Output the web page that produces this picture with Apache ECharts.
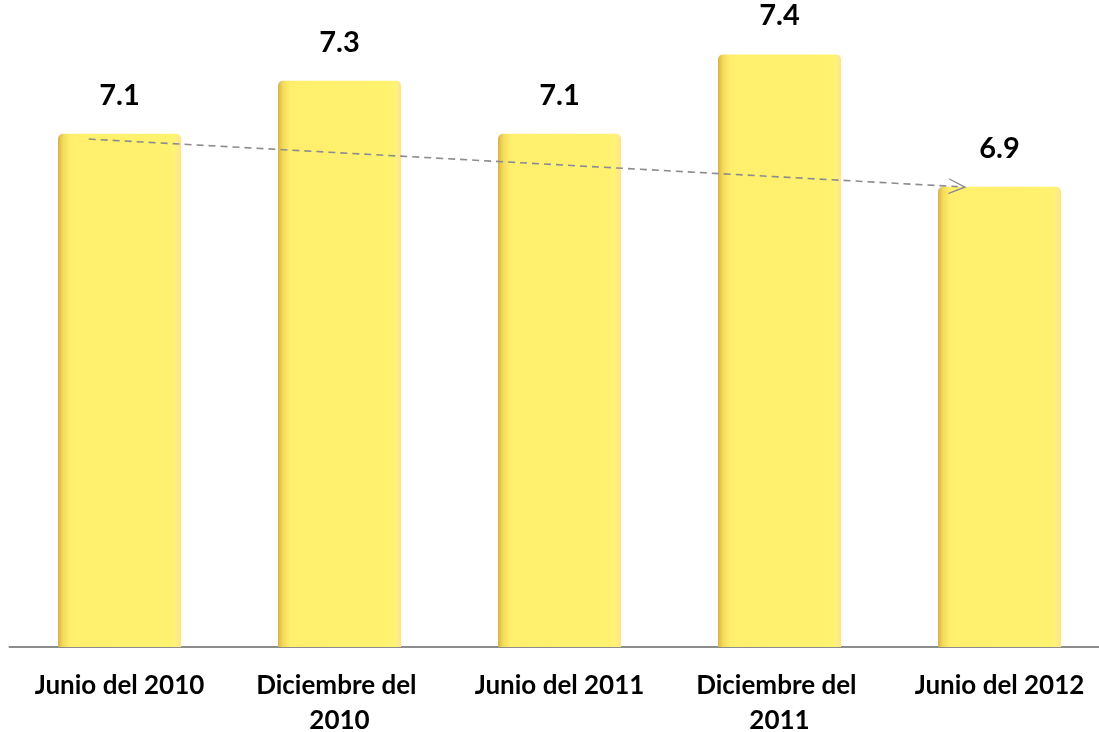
<!DOCTYPE html>
<html>
<head>
<meta charset="utf-8">
<script src="https://cdn.jsdelivr.net/npm/echarts@6/dist/echarts.min.js"></script>
<style>
html,body{margin:0;padding:0;background:#fff;}
#chart{width:1099px;height:732px;}
</style>
</head>
<body>
<div id="chart"></div>
<script>
const categories = ['Junio del 2010', 'Diciembre del 2010', 'Junio del 2011', 'Diciembre del 2011', 'Junio del 2012'];
const values = [7.1, 7.3, 7.1, 7.4, 6.9];
// trend arrow endpoints in data space [category position, value]
const trendStart = [-0.14, 7.08];
const trendEnd = [3.81, 6.90];

const chart = echarts.init(document.getElementById('chart'));
const font = 'Lato, "Open Sans", sans-serif';
const barGradient = new echarts.graphic.LinearGradient(0, 0, 1, 0, [
  {offset: 0, color: '#d6b540'},
  {offset: 0.04, color: '#f3da5a'},
  {offset: 0.10, color: '#ffef6c'},
  {offset: 0.90, color: '#fff26e'},
  {offset: 0.96, color: '#fff27a'},
  {offset: 1, color: '#f8e0a8'}
]);
chart.setOption({
  animation: false,
  grid: {left: 9.5, width: 1100, top: 20, bottom: 85, containLabel: false, outerBoundsMode: 'none'},
  xAxis: [{
    type: 'category',
    data: categories,
    axisLine: {lineStyle: {color: '#8c8c8c', width: 2}},
    axisTick: {show: false},
    axisLabel: {
      interval: 0, margin: 21, width: 205, overflow: 'break',
      fontFamily: font, fontWeight: 'bold', fontSize: 26, lineHeight: 35, color: '#000'
    }
  }, {
    type: 'value', min: -0.5, max: 4.5, show: false
  }],
  yAxis: {type: 'value', min: 5.16, max: 7.53, show: false, splitLine: {show: false}},
  series: [{
    type: 'bar',
    data: values,
    barWidth: 123,
    itemStyle: {color: barGradient, borderRadius: [5, 5, 0, 0]},
    label: {
      show: true, position: 'top', distance: 24,
      fontFamily: font, fontWeight: 'bold', fontSize: 29, color: '#000',
      formatter: p => p.value.toFixed(1)
    }
  }, {
    type: 'line',
    xAxisIndex: 1,
    data: [],
    silent: true,
    markLine: {
      silent: true,
      symbol: ['none', 'path://M0,18 L8,0 L16,18 L14.6,18 L8,3.6 L1.4,18 Z'],
      symbolSize: [16, 18],
      label: {show: false},
      lineStyle: {color: '#8c8c8c', width: 1.6, type: [7, 5]},
      data: [[{coord: trendStart}, {coord: trendEnd}]]
    }
  }]
});
</script>
</body>
</html>
